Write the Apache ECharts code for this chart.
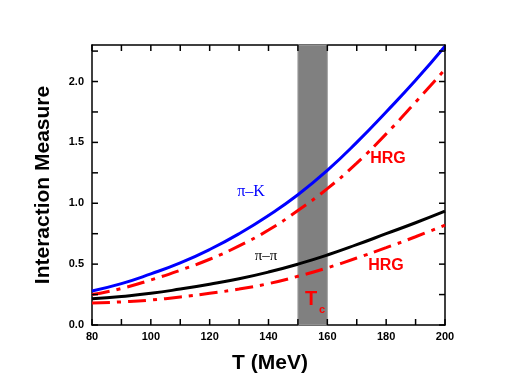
<!DOCTYPE html>
<html>
<head>
<meta charset="utf-8">
<script src="https://cdn.jsdelivr.net/npm/echarts@6/dist/echarts.min.js"></script>
<style>
    html, body { margin: 0; padding: 0; background: #fff; }
    #chart { width: 518px; height: 390px; }
</style>
</head>
<body>
<div id="chart"></div>
<script>
// Données
const temperatures = [80, 90, 100, 110, 120, 130, 140, 150, 160, 170, 180, 190, 200];
const piK = [0.28, 0.34, 0.42, 0.51, 0.62, 0.75, 0.90, 1.07, 1.27, 1.50, 1.75, 2.01, 2.29];
const piKHrg = [0.25, 0.30, 0.37, 0.45, 0.54, 0.65, 0.78, 0.94, 1.12, 1.33, 1.57, 1.83, 2.10];
const piPi = [0.215, 0.235, 0.26, 0.295, 0.335, 0.38, 0.435, 0.50, 0.575, 0.66, 0.75, 0.84, 0.935];
const piPiHrg = [0.18, 0.19, 0.205, 0.23, 0.26, 0.295, 0.34, 0.40, 0.47, 0.55, 0.635, 0.725, 0.82];
const tcBand = [150, 160];

// graduations
const xTicks = [80, 90, 100, 110, 120, 130, 140, 150, 160, 170, 180, 190, 200];
const yTicks = [0, 0.25, 0.5, 0.75, 1.0, 1.25, 1.5, 1.75, 2.0, 2.25];
const xMin = 80, xMax = 200, yMin = 0, yMax = 2.3;

const paires = vals => temperatures.map((t, i) => [t, vals[i]]);

const chart = echarts.init(document.getElementById('chart'));

const axeX = (pos, labels) => ({
    type: 'value', position: pos, min: xMin, max: xMax, interval: 10,
    axisLine: { show: true, onZero: false, lineStyle: { color: '#000', width: 1.5 } },
    axisTick: { show: false },
    axisLabel: {
        show: labels, color: '#000', fontWeight: 'bold', fontSize: 11, fontFamily: 'Arial',
        margin: 6, formatter: v => (v % 20 === 0 ? String(v) : '')
    },
    splitLine: { show: false }
});

const axeY = (pos, labels) => ({
    type: 'value', position: pos, min: yMin, max: yMax, interval: 0.25,
    axisLine: { show: true, onZero: false, lineStyle: { color: '#000', width: 1.5 } },
    axisTick: { show: false },
    axisLabel: {
        show: labels, color: '#000', fontWeight: 'bold', fontSize: 11, fontFamily: 'Arial',
        margin: 8,
        formatter: v => (Math.abs(v * 2 - Math.round(v * 2)) < 1e-6 ? v.toFixed(1) : '')
    },
    splitLine: { show: false }
});

// petites graduations vers l'intérieur : un élément par graduation et par côté
const L = 6;
const cote = ['bas', 'haut', 'gauche', 'droite'];
const donneesGrad = [];
xTicks.forEach(v => { donneesGrad.push([v, yMin, 0]); donneesGrad.push([v, yMax, 1]); });
yTicks.forEach(v => { donneesGrad.push([xMin, v, 2]); donneesGrad.push([xMax, v, 3]); });

function graduation(params, api) {
    const p = api.coord([api.value(0), api.value(1)]);
    const k = api.value(2);
    let dx = 0, dy = 0;
    if (k === 0) dy = -L;
    if (k === 1) dy = L;
    if (k === 2) dx = L;
    if (k === 3) dx = -L;
    return {
        type: 'line',
        shape: { x1: p[0], y1: p[1], x2: p[0] + dx, y2: p[1] + dy },
        style: { stroke: '#000', lineWidth: 1.5 }
    };
}

const tiret = [18, 7, 4, 7];

const option = {
    backgroundColor: '#fff',
    animation: false,
    grid: { left: 92, right: 73, top: 45, bottom: 65 },
    xAxis: [axeX('bottom', true), axeX('top', false)],
    yAxis: [axeY('left', true), axeY('right', false)],
    series: [
        {
            type: 'line', data: paires(piK), smooth: true, showSymbol: false,
            lineStyle: { color: '#0000ff', width: 3 }, z: 5,
            markArea: {
                silent: true,
                itemStyle: { color: '#808080', borderColor: '#a0a0a0', borderWidth: 1 },
                data: [[{ xAxis: tcBand[0] }, { xAxis: tcBand[1] }]]
            }
        },
        {
            type: 'line', data: paires(piKHrg), smooth: true, showSymbol: false,
            lineStyle: { color: '#ff0000', width: 3, type: tiret }, z: 4
        },
        {
            type: 'line', data: paires(piPi), smooth: true, showSymbol: false,
            lineStyle: { color: '#000', width: 3 }, z: 5
        },
        {
            type: 'line', data: paires(piPiHrg), smooth: true, showSymbol: false,
            lineStyle: { color: '#ff0000', width: 3, type: tiret }, z: 4
        },
        {
            type: 'custom', renderItem: graduation, silent: true, clip: false, z: 10,
            encode: { x: 0, y: 1 },
            data: donneesGrad
        }
    ],
    graphic: [
        {
            type: 'text', x: 270, y: 363, z: 100,
            style: { text: 'T (MeV)', fill: '#000', font: 'bold 21px Arial', align: 'center', verticalAlign: 'middle' }
        },
        {
            type: 'text', x: 43, y: 185, rotation: Math.PI / 2, z: 100,
            style: { text: 'Interaction Measure', fill: '#000', font: 'bold 21px Arial', align: 'center', verticalAlign: 'middle' }
        },
        {
            type: 'text', x: 251, y: 192, z: 100,
            style: { text: 'π–K', fill: '#0000ff', font: '16px "Liberation Serif"', align: 'center', verticalAlign: 'middle' }
        },
        {
            type: 'text', x: 266, y: 256, z: 100,
            style: { text: 'π–π', fill: '#000', font: '15px "Liberation Serif"', align: 'center', verticalAlign: 'middle' }
        },
        {
            type: 'text', x: 388, y: 159, z: 100,
            style: { text: 'HRG', fill: '#ff0000', font: 'bold 16px Arial', align: 'center', verticalAlign: 'middle' }
        },
        {
            type: 'text', x: 386, y: 266, z: 100,
            style: { text: 'HRG', fill: '#ff0000', font: 'bold 16px Arial', align: 'center', verticalAlign: 'middle' }
        },
        {
            type: 'text', x: 311, y: 299, z: 100,
            style: { text: 'T', fill: '#ff0000', font: 'bold 20px Arial', align: 'center', verticalAlign: 'middle' }
        },
        {
            type: 'text', x: 322, y: 310, z: 100,
            style: { text: 'c', fill: '#ff0000', font: 'bold 11px Arial', align: 'center', verticalAlign: 'middle' }
        }
    ]
};

chart.setOption(option);
</script>
</body>
</html>
